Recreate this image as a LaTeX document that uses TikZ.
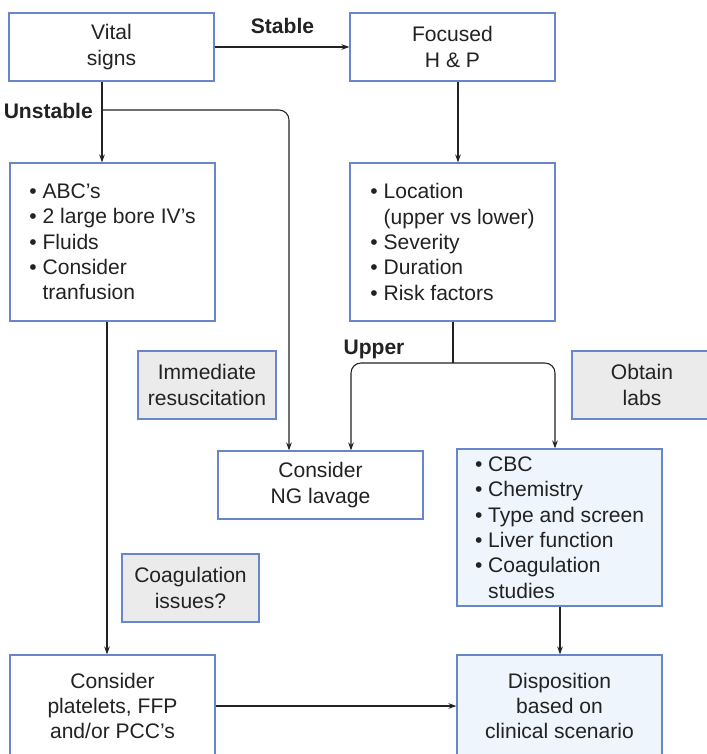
\documentclass[tikz,border=0pt]{standalone}
\usepackage{fontspec}
\setmainfont{Liberation Sans}
\usetikzlibrary{arrows.meta}

\definecolor{boxblue}{RGB}{104,134,204}
\definecolor{notegray}{RGB}{235,235,235}
\definecolor{paleblue}{RGB}{238,245,253}
\definecolor{ink}{RGB}{34,34,34}

% bullet item and continuation indent for list boxes
\newcommand\bitem{\textbullet\ }
\newcommand\bcont{\hphantom{\textbullet\ }}

\begin{document}
\begin{tikzpicture}[x=0.75pt,y=-0.75pt,
  font=\fontsize{15.8}{19}\selectfont, text=ink,
  box/.style={draw=boxblue, line width=0.9pt, fill=white, inner sep=0pt,
    minimum width=153.75pt, minimum height=51pt, align=center},
  listbox/.style={box, minimum height=118.5pt, align=left},
  notebox/.style={box, fill=notegray, minimum width=103.5pt},
  link/.style={draw=ink, line width=0.8pt},
  arr/.style={link, -{Stealth[length=6pt,width=4.2pt]}},
  lbl/.style={font=\fontsize{15.8}{19}\selectfont\bfseries, inner sep=0pt}
]
\useasboundingbox (0,0) rectangle (707,754);

% boxes
\node[box] (vital) at (111.5,47) {Vital\\signs};
\node[box] (focus) at (452.5,47) {Focused\\H \& P};
\node[listbox] (abc) at (112.5,242)
  {\bitem ABC’s\\\bitem 2 large bore IV’s\\\bitem Fluids\\\bitem Consider\\\bcont tranfusion};
\node[listbox] (loc) at (452.5,242)
  {\bitem Location\\\bcont (upper vs lower)\\\bitem Severity\\\bitem Duration\\\bitem Risk factors};
\node[notebox] (imm) at (207,385) {Immediate\\resuscitation};
\node[notebox, minimum width=105pt] (labs) at (642,385) {Obtain\\labs};
\node[box] (ng) at (320.5,485) {Consider\\NG lavage};
\node[listbox, fill=paleblue, minimum height=117.75pt] (cbc) at (559.5,527.5)
  {\bitem CBC\\\bitem Chemistry\\\bitem Type and screen\\\bitem Liver function\\\bitem Coagulation\\\bcont studies};
\node[notebox, minimum width=102.75pt] (coag) at (190.5,588) {Coagulation\\issues?};
\node[box, minimum height=76.5pt] (plat) at (112.5,706) {Consider\\platelets, FFP\\and/or PCC’s};
\node[box, fill=paleblue, minimum height=76.5pt] (disp) at (559.5,706) {Disposition\\based on\\clinical scenario};

% branch labels
\node[lbl, anchor=base] (stable) at (282.5,33) {Stable};
\node[lbl, anchor=base east] (unstable) at (93,118) {Unstable};
\node[lbl, anchor=base] (upper) at (374,354) {Upper};

% branch points
\coordinate (usplit) at (102,110);
\coordinate (lsplit) at (453,363);

% connectors
\draw[arr] (vital.east) -- (focus.west);
\draw[arr] (vital.south -| usplit) -- (abc.north -| usplit);
\draw[arr, rounded corners=7.5pt] (usplit) -| (ng.north -| 289,0);
\draw[arr] (focus.south -| 458,0) -- (loc.north -| 458,0);
\draw[link] (loc.south -| lsplit) -- (lsplit);
\draw[arr, rounded corners=7.5pt] (lsplit) -| (ng.north -| 351,0);
\draw[arr, rounded corners=7.5pt] (lsplit) -| (cbc.north -| 555,0);
\draw[arr] (abc.south -| 107,0) -- (plat.north -| 107,0);
\draw[arr] (cbc.south -| 560,0) -- (disp.north -| 560,0);
\draw[arr] (plat.east) -- (disp.west);
\end{tikzpicture}
\end{document}
